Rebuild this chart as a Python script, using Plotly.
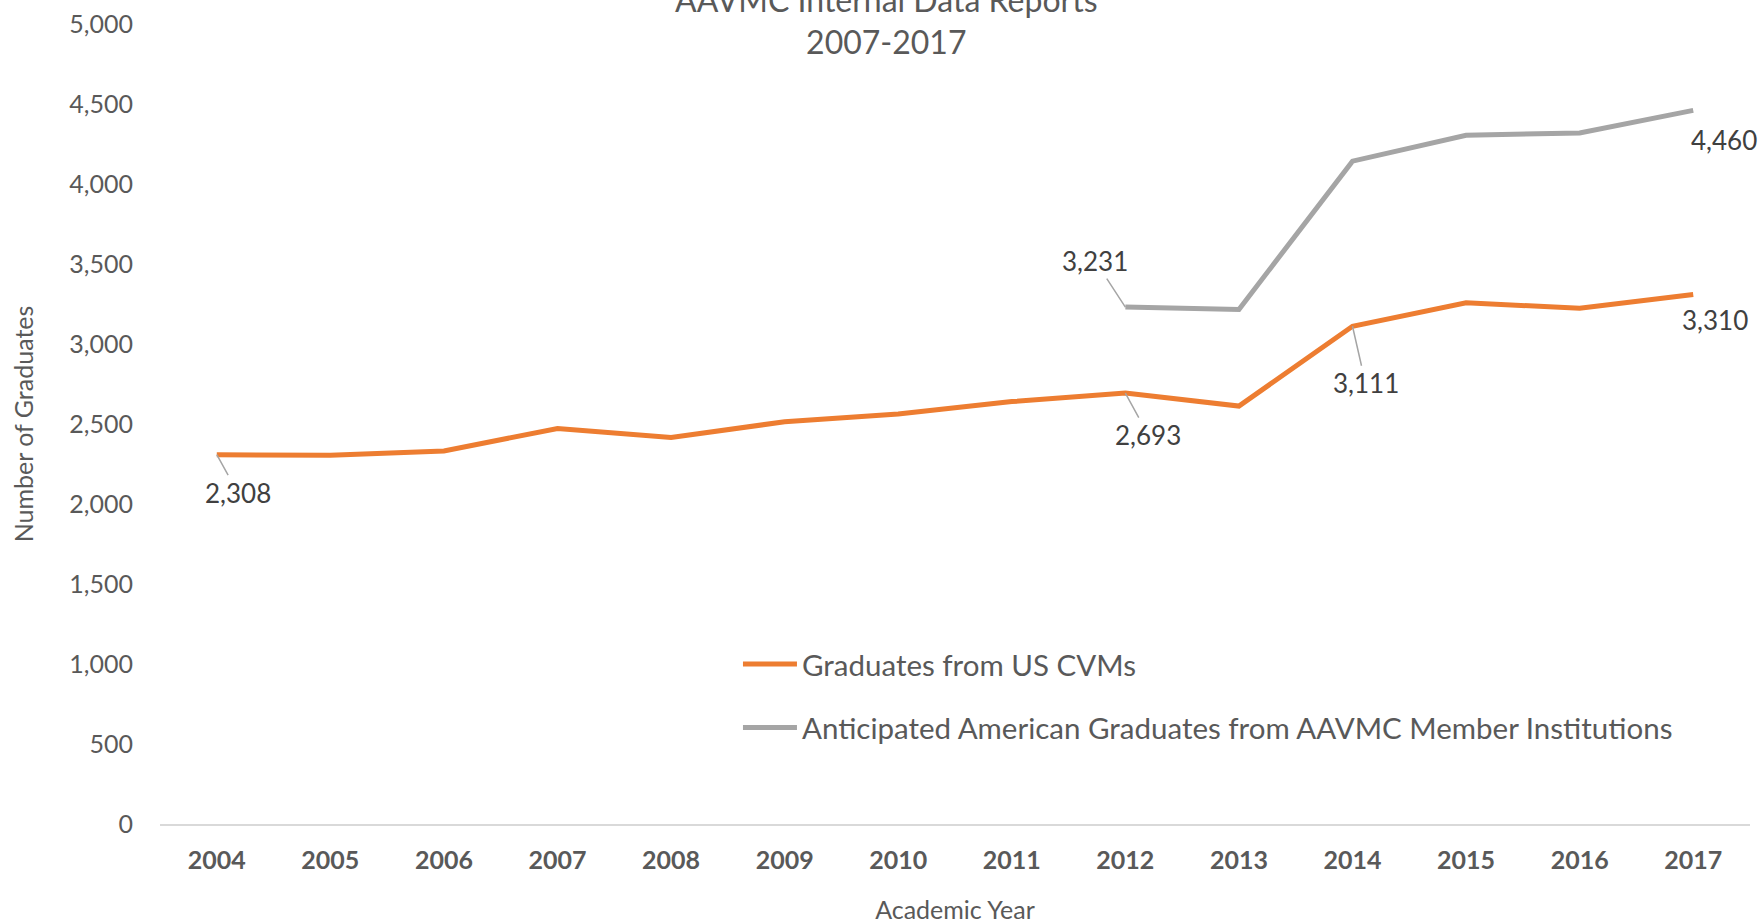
import plotly.graph_objects as go

years = ["2004", "2005", "2006", "2007", "2008", "2009", "2010",
         "2011", "2012", "2013", "2014", "2015", "2016", "2017"]
us_cvm = [2308, 2305, 2331, 2472, 2416, 2514, 2563, 2640, 2693, 2612, 3111, 3258, 3223, 3310]
aavmc_years = ["2012", "2013", "2014", "2015", "2016", "2017"]
aavmc = [3231, 3216, 4143, 4305, 4319, 4460]

FONT = "Lato"
ORANGE = "#ED7D31"
GRAY = "#A5A5A5"
TXT = "#595959"
LBL = "#404040"

fig = go.Figure()
fig.add_trace(go.Scatter(x=years, y=us_cvm, mode="lines", name="Graduates from US CVMs",
                         line=dict(color=ORANGE, width=5), legendgroup="a"))
fig.add_trace(go.Scatter(x=aavmc_years, y=aavmc, mode="lines",
                         name="Anticipated American Graduates from AAVMC Member Institutions",
                         line=dict(color=GRAY, width=5), legendgroup="b"))

# data labels: (year, value, ax, ay, leader)
labels = [
    ("2004", us_cvm[0], 21, 38, True),
    ("2012", aavmc[0], -30, -46, True),
    ("2012", us_cvm[8], 23, 42, True),
    ("2014", us_cvm[10], 13, 57, True),
    ("2017", aavmc[-1], 31, 30, False),
    ("2017", us_cvm[-1], 22, 26, False),
]
for yr, val, ax, ay, leader in labels:
    fig.add_annotation(x=years.index(yr), y=val, xref="x", yref="y", text=f"{val:,}",
                       showarrow=True, ax=ax, ay=ay,
                       arrowhead=0, arrowwidth=1.5,
                       arrowcolor=GRAY if leader else "rgba(0,0,0,0)",
                       font=dict(family=FONT, size=26, color=LBL))

fig.update_layout(
    width=1762, height=924,
    paper_bgcolor="white", plot_bgcolor="white",
    margin=dict(l=160, r=12, t=24, b=100, autoexpand=False),
    title=dict(text="AAVMC Internal Data Reports<br>2007-2017", x=0.503, xref="container",
               xanchor="center", y=0.9865, yanchor="middle",
               font=dict(family=FONT, size=32, color=TXT)),
    font=dict(family=FONT, color=TXT),
    legend=dict(x=0.3635, y=0.232, xanchor="left", yanchor="top",
                font=dict(family=FONT, size=29.5, color=TXT), itemwidth=54,
                tracegroupgap=22, bgcolor="rgba(0,0,0,0)"),
    xaxis=dict(type="category", range=[-0.5, 13.5], showgrid=False, showline=True,
               linecolor="#D9D9D9", linewidth=2, ticks="", ticklabelstandoff=13,
               automargin=False,
               tickfont=dict(family=FONT, size=25, color=TXT, weight="bold"),
               title=dict(text="Academic Year", standoff=37,
                          font=dict(family=FONT, size=25, color=TXT))),
    yaxis=dict(range=[0, 5000], dtick=500, tickformat=",", showgrid=False, zeroline=False,
               showline=False, ticklabelstandoff=26, automargin=False,
               tickfont=dict(family=FONT, size=25, color=TXT),
               title=dict(text="Number of Graduates", standoff=28,
                          font=dict(family=FONT, size=25, color=TXT))),
)

fig.write_html("out.html", config={"displayModeBar": False},
               post_script="document.body.style.margin='0';")
